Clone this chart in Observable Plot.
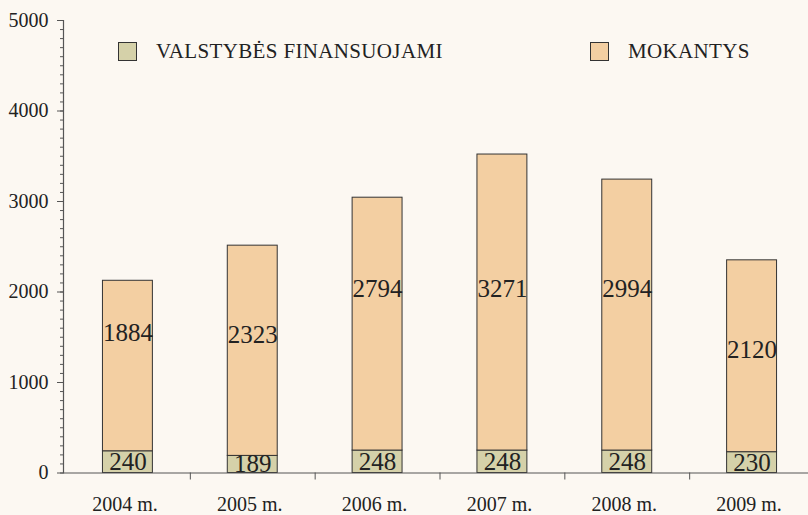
<!DOCTYPE html>
<html>
<head>
<meta charset="utf-8">
<script src="https://cdn.jsdelivr.net/npm/d3@7"></script>
<script src="https://cdn.jsdelivr.net/npm/@observablehq/plot@0.6"></script>
<style>
  html, body { margin: 0; padding: 0; background: #fcf8f2; overflow: hidden; }
  #wrap { position: relative; width: 808px; height: 515px; }
  .legend { position: absolute; font-family: "Liberation Serif", "DejaVu Serif", serif; font-size: 21px; letter-spacing: 0.35px; color: #222; display: flex; align-items: center; }
  .legend .sw { width: 17px; height: 17px; border: 1px solid #333; box-sizing: content-box; margin-right: 19px; flex: none; }
</style>
</head>
<body>
<div id="wrap"></div>
<script>
const years = ["2004 m.", "2005 m.", "2006 m.", "2007 m.", "2008 m.", "2009 m."];
const valstybes = [240, 189, 248, 248, 248, 230];
const mokantys = [1884, 2323, 2794, 3271, 2994, 2120];
const mokantysLabelAt = [1547, 1525, 2037, 2037, 2035, 1354];
const seriesNames = ["VALSTYBĖS FINANSUOJAMI", "MOKANTYS"];
const yTicks = [0, 1000, 2000, 3000, 4000, 5000];

const colors = {VALST: "#d5d1a9", MOK: "#f3cfa2"};
const font = "Liberation Serif, DejaVu Serif, serif";

const rows = [];
years.forEach((y, i) => {
  rows.push({year: y, series: seriesNames[0], y1: 0, y2: valstybes[i], v: valstybes[i], ly: valstybes[i] / 2});
  rows.push({year: y, series: seriesNames[1], y1: valstybes[i], y2: valstybes[i] + mokantys[i], v: mokantys[i], ly: mokantysLabelAt[i]});
});

const xRange = [65, 814];
const step = (xRange[1] - xRange[0]) / years.length;

const chart = Plot.plot({
  width: 808,
  height: 515,
  marginTop: 20,
  marginBottom: 42.5,
  marginLeft: 63,
  marginRight: 0,
  style: {background: "#fcf8f2", fontFamily: font, color: "#222", overflow: "hidden"},
  x: {domain: years, range: xRange, paddingInner: 0.6, paddingOuter: 0.3, round: false, axis: null},
  y: {domain: [0, 5000], axis: null},
  color: {domain: seriesNames, range: [colors.VALST, colors.MOK]},
  marks: [
    Plot.barY(rows, {x: "year", y1: "y1", y2: "y2", fill: "series", stroke: "#333", strokeWidth: 1}),
    Plot.text(rows, {x: "year", y: "ly", text: d => String(d.v), fontSize: 25, fill: "#222", fontFamily: font}),
    // minor y ticks
    Plot.axisY({ticks: d3.range(0, 5001, 100), tickSize: 3, text: null, stroke: "#555", anchor: "left"}),
    // major y ticks + labels
    Plot.axisY({ticks: yTicks, tickSize: 6, tickPadding: 9, tickFormat: d => String(d), fontSize: 20, stroke: "#555", anchor: "left", label: null}),
    // x boundary ticks
    Plot.axisX({tickSize: 7, text: null, dx: step / 2, stroke: "#555", anchor: "bottom", label: null}),
    // x labels
    Plot.axisX({tickSize: 0, tickPadding: 24, fontSize: 20, dx: -3, anchor: "bottom", label: null}),
    Plot.ruleY([0], {stroke: "#555", strokeWidth: 1.2}),
    Plot.frame({anchor: "left", stroke: "#555", strokeWidth: 1.2})
  ]
});

const wrap = document.getElementById("wrap");
wrap.appendChild(chart);

const legendItems = [
  {name: seriesNames[0], color: colors.VALST, left: 118, top: 39},
  {name: seriesNames[1], color: colors.MOK, left: 590, top: 39}
];
legendItems.forEach(it => {
  const d = document.createElement("div");
  d.className = "legend";
  d.style.left = it.left + "px";
  d.style.top = it.top + "px";
  const sw = document.createElement("div");
  sw.className = "sw";
  sw.style.background = it.color;
  const t = document.createElement("span");
  t.textContent = it.name;
  d.appendChild(sw);
  d.appendChild(t);
  wrap.appendChild(d);
});
</script>
</body>
</html>
